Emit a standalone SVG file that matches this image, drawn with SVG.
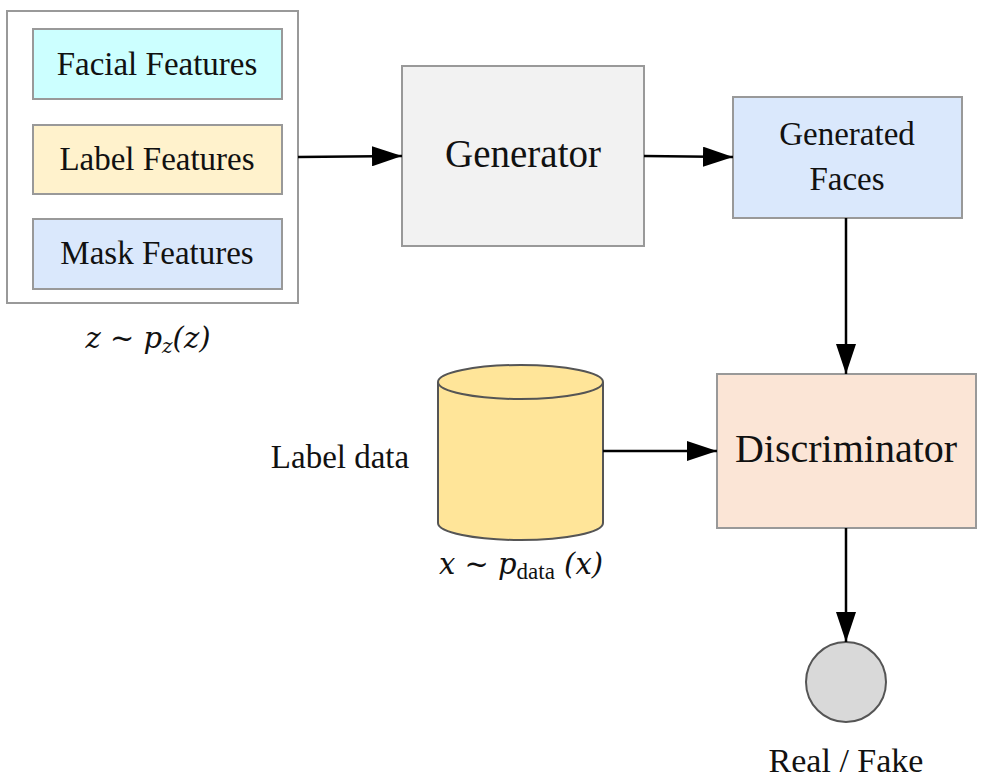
<svg xmlns="http://www.w3.org/2000/svg" width="981" height="779" viewBox="0 0 981 779">
<style>
text{font-family:"Liberation Serif","Times New Roman",serif;fill:#111;text-anchor:middle}
.box{stroke:#999;stroke-width:2}
.edge{stroke:#000;stroke-width:2.5;fill:none}
.math{font-family:"DejaVu Serif","Liberation Serif",serif;font-style:italic;font-size:29px}
</style>
<defs>
<marker id="arr" markerUnits="userSpaceOnUse" markerWidth="30" markerHeight="20" refX="30" refY="10" orient="auto" viewBox="0 0 30 20">
<path d="M0,0 L30,10 L0,20 z" fill="#000"/>
</marker>
</defs>
<rect width="981" height="779" fill="#fff"/>
<g id="input">
<rect x="7" y="11" width="291" height="292" fill="#fff" class="box"/>
<g id="facial"><rect x="33" y="29" width="249" height="70" fill="#CCFFFF" class="box"/><text x="157" y="75" font-size="33">Facial Features</text></g>
<g id="label"><rect x="33" y="125" width="249" height="69" fill="#FFF2CC" class="box"/><text x="157" y="170" font-size="33">Label Features</text></g>
<g id="mask"><rect x="33" y="219" width="249" height="70" fill="#DAE8FC" class="box"/><text x="157" y="264" font-size="33">Mask Features</text></g>
<text x="148" y="348" class="math">z ~ p<tspan font-size="20" dy="5">z</tspan><tspan dy="-5">(z)</tspan></text>
</g>
<g id="generator">
<rect x="402" y="66" width="242" height="180" fill="#F2F2F2" class="box"/>
<text x="523" y="167" font-size="39">Generator</text>
</g>
<g id="faces">
<rect x="733" y="97" width="229" height="121" fill="#DAE8FC" class="box"/>
<text x="847" y="145" font-size="33">Generated</text>
<text x="847" y="190" font-size="33">Faces</text>
</g>
<g id="labeldata">
<path d="M438,382 L438,523 A82.5,17 0 0 0 603,523 L603,382" fill="#FFE599" stroke="#555" stroke-width="2"/>
<ellipse cx="520.5" cy="382" rx="82.5" ry="17" fill="#FFE599" stroke="#555" stroke-width="2"/>
<text x="340" y="468" font-size="33">Label data</text>
<text x="521" y="574" class="math">x ~ p<tspan font-family="Liberation Serif" font-size="23" font-style="normal" dy="5">data</tspan><tspan dy="-5"> (x)</tspan></text>
</g>
<g id="discriminator">
<rect x="717" y="374" width="259" height="154" fill="#FBE5D6" class="box"/>
<text x="846" y="462" font-size="40">Discriminator</text>
</g>
<g id="output">
<circle cx="846" cy="682" r="40" fill="#D9D9D9" stroke="#555" stroke-width="2"/>
<text x="846" y="772" font-size="34">Real / Fake</text>
</g>
<g id="connectors">
<line x1="298" y1="157" x2="402" y2="156" class="edge" marker-end="url(#arr)"/>
<line x1="644" y1="156" x2="733" y2="157" class="edge" marker-end="url(#arr)"/>
<line x1="846" y1="218" x2="846" y2="374" class="edge" marker-end="url(#arr)"/>
<line x1="603" y1="451" x2="717" y2="451" class="edge" marker-end="url(#arr)"/>
<line x1="846" y1="528" x2="846" y2="642" class="edge" marker-end="url(#arr)"/>
</g>
</svg>
